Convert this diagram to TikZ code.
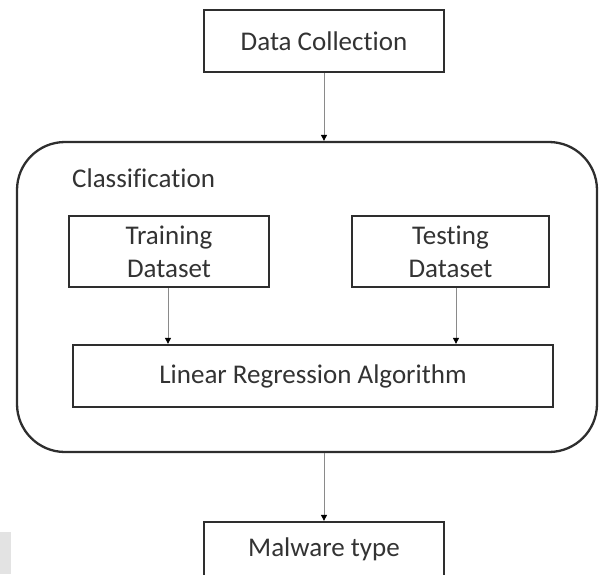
\documentclass[tikz,border=0pt]{standalone}
\usepackage{fontspec}
\setmainfont[Ligatures=NoCommon]{Carlito}
\usetikzlibrary{arrows.meta}

\definecolor{edge}{HTML}{2E2E2E}
\definecolor{ink}{HTML}{333333}
\definecolor{wire}{HTML}{8A8A8A}

\tikzset{
  box/.style={draw=edge, line width=2.3pt, inner sep=0pt, fill=white,
              font=\fontsize{27}{33}\selectfont, text=ink, align=center},
  group/.style={draw=edge, line width=2.3pt, rounded corners=48pt, inner sep=0pt},
  label/.style={font=\fontsize{27}{33}\selectfont, text=ink, inner sep=0pt, anchor=west},
  flow/.style={draw=wire, line width=0.9pt,
               -{Triangle[width=6pt,length=6pt,color=black]}}
}

\begin{document}
\begin{tikzpicture}[x=1pt, y=-1pt]
  \useasboundingbox (0,0) rectangle (599,574);

  % faint grey strip at the lower left
  \fill[gray!22] (0,532) rectangle (11,574);

  % classification stage (rounded container)
  \node[group, minimum width=580pt, minimum height=310pt] (cls) at (307,297) {};
  \node[label] (clsname) at (72,178) {Classification};

  % boxes
  \node[box, minimum width=240pt, minimum height=62pt] (collect) at (324,41) {Data Collection};
  \node[box, minimum width=200pt, minimum height=71pt] (train) at (169,251.5) {Training\\Dataset};
  \node[box, minimum width=197pt, minimum height=71pt] (test) at (450.5,251.5) {Testing\\Dataset};
  \node[box, minimum width=480pt, minimum height=62pt] (linreg) at (313,376) {Linear Regression Algorithm};
  \node[box, minimum width=240pt, minimum height=54pt] (malware) at (324,549) {Malware type};

  % connectors
  \draw[flow] (collect.south) -- (collect.south |- cls.north);
  \draw[flow] (train.south -| 168,0) -- (linreg.north -| 168,0);
  \draw[flow] (test.south -| 456,0) -- (linreg.north -| 456,0);
  \draw[flow] (cls.south -| malware.north) -- (malware.north);
\end{tikzpicture}
\end{document}
